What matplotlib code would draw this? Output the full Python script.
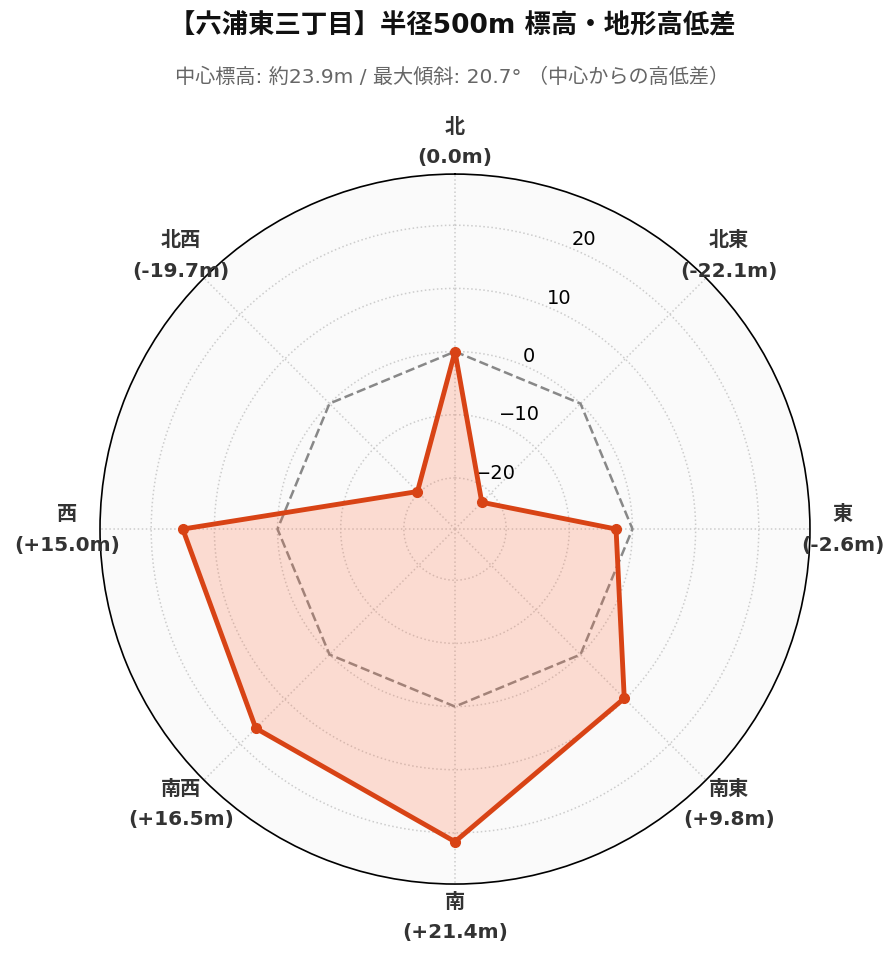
import numpy as np
import matplotlib
matplotlib.use('Agg')
import matplotlib.pyplot as plt

# 方位と中心からの高低差 (m)
directions = ['北', '北東', '東', '南東', '南', '南西', '西', '北西']
diffs = [0.0, -22.1, -2.6, 9.8, 21.4, 16.5, 15.0, -19.7]
rticks = [-20, -10, 0, 10, 20]

title = '【六浦東三丁目】半径500m 標高・地形高低差'
subtitle = '中心標高: 約23.9m / 最大傾斜: 20.7° （中心からの高低差）'

line_color = '#d84315'
fill_color = '#ff7043'
fonts = ['DejaVu Sans', 'Noto Sans CJK JP']

fig = plt.figure(figsize=(8.96, 9.62), dpi=100)
ax = fig.add_axes([0.1116, 0.0800, 0.7924, 0.7380], projection='polar')
ax.set_theta_zero_location('N')
ax.set_theta_direction(-1)
ax.set_facecolor('#fafafa')

angles = np.deg2rad(np.arange(len(directions)) * 360 / len(directions))
closed_a = np.append(angles, angles[0])
closed_v = np.append(diffs, diffs[0])

ax.set_ylim(-28.1, 28.1)

# 基準線 (高低差 0)
ax.plot(closed_a, np.zeros_like(closed_a), '--', color='#888888', lw=1.8, zorder=2)

ax.fill(closed_a, closed_v, color=fill_color, alpha=0.22, lw=0, zorder=3)
ax.plot(closed_a, closed_v, color=line_color, lw=3.5, zorder=4)
ax.plot(angles, diffs, 'o', color=line_color, ms=7, zorder=5)

ax.set_xticks(angles)
ax.set_xticklabels([])
ax.set_yticks(rticks)
ax.set_yticklabels([str(t).replace('-', '\u2212') for t in rticks], fontsize=14,
                   family='DejaVu Sans')
ax.set_rlabel_position(22.5)
ax.grid(True, color='#cccccc', ls=':', lw=1.1)
ax.spines['polar'].set_color('black')
ax.spines['polar'].set_linewidth(1.2)

for a, d, v in zip(angles, directions, diffs):
    lab = '%s\n(%+.1fm)' % (d, v) if v != 0 else '%s\n(0.0m)' % d
    x = 0.5 + 0.546 * np.sin(a)
    y = 0.5 + 0.546 * np.cos(a)
    ax.text(x, y, lab, transform=ax.transAxes, ha='center', va='center',
            fontsize=14.5, fontweight='bold', color='#333333', linespacing=1.75,
            family=fonts)

fig.text(0.505, 0.972, title, ha='center', va='center', fontsize=19,
         fontweight='bold', family=fonts, color='#111111')
fig.text(0.504, 0.920, subtitle, ha='center', va='center', fontsize=14.5,
         family=fonts, color='#666666')

fig.savefig('out.png', dpi=100, facecolor='white')
